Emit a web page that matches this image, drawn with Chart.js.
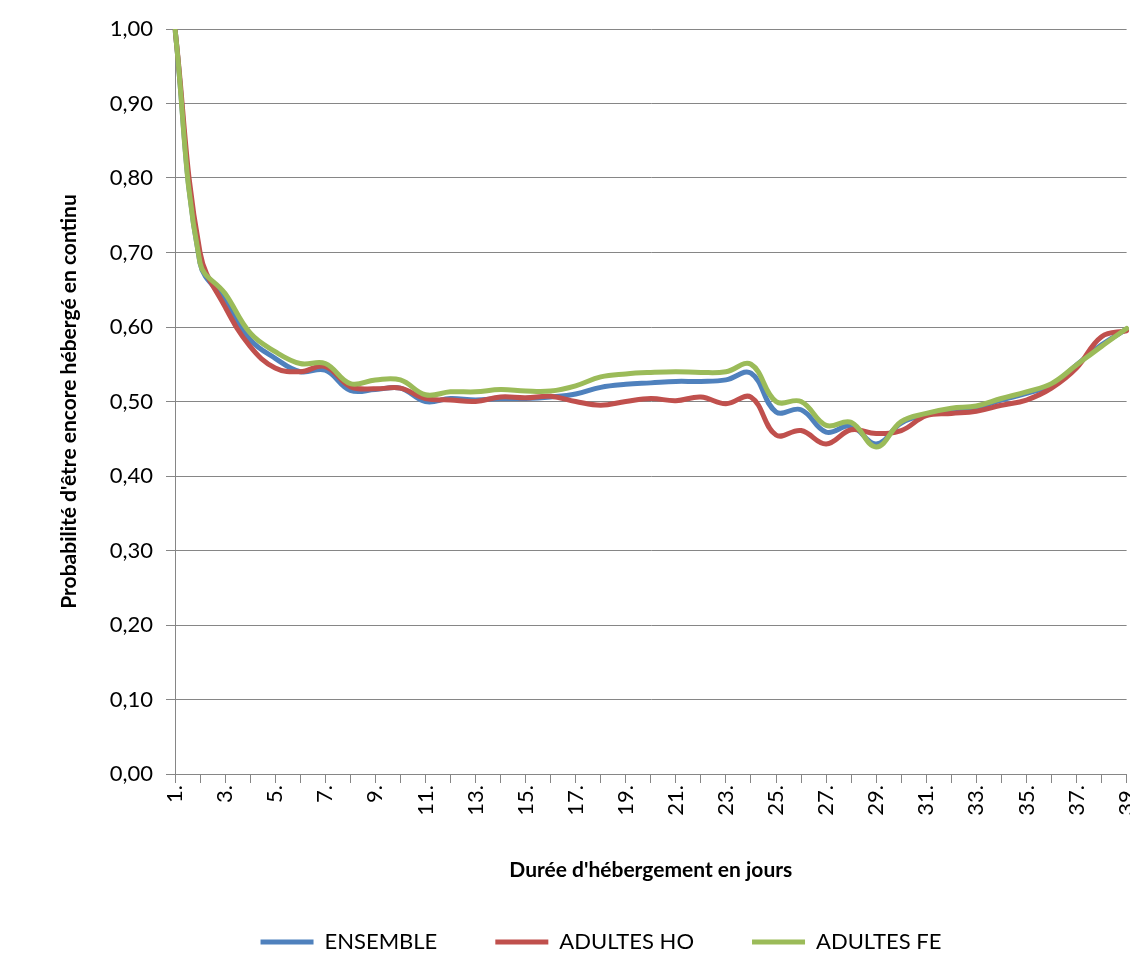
<!DOCTYPE html>
<html>
<head>
<meta charset="utf-8">
<script src="https://cdn.jsdelivr.net/npm/chart.js@4.4.0/dist/chart.umd.min.js"></script>
<style>
  html, body { margin: 0; padding: 0; overflow: hidden; background: #fff; }
  #wrap { width: 1155px; height: 963px; position: relative; }
</style>
</head>
<body>
<div id="wrap"><canvas id="survieChart"></canvas></div>
<script>
// categories: durée d'hébergement (jours)
const days = ['1.', '2.', '3.', '4.', '5.', '6.', '7.', '8.', '9.', '10.',
  '11.', '12.', '13.', '14.', '15.', '16.', '17.', '18.', '19.', '20.',
  '21.', '22.', '23.', '24.', '25.', '26.', '27.', '28.', '29.', '30.',
  '31.', '32.', '33.', '34.', '35.', '36.', '37.', '38.', '39.'];

const ensemble = [1.00, 0.686, 0.636, 0.583, 0.558, 0.540, 0.542, 0.515, 0.516, 0.518,
  0.500, 0.504, 0.502, 0.504, 0.504, 0.506, 0.510, 0.519, 0.523, 0.525,
  0.527, 0.527, 0.529, 0.538, 0.486, 0.489, 0.459, 0.467, 0.443, 0.471,
  0.483, 0.489, 0.492, 0.502, 0.511, 0.522, 0.549, 0.576, 0.597];

const adultesHo = [1.00, 0.700, 0.627, 0.574, 0.545, 0.540, 0.547, 0.520, 0.517, 0.518,
  0.504, 0.502, 0.500, 0.506, 0.505, 0.507, 0.500, 0.495, 0.500, 0.504,
  0.501, 0.506, 0.497, 0.506, 0.455, 0.461, 0.443, 0.462, 0.457, 0.461,
  0.481, 0.484, 0.487, 0.495, 0.502, 0.518, 0.545, 0.587, 0.595];

const adultesFe = [1.00, 0.686, 0.645, 0.592, 0.567, 0.551, 0.551, 0.524, 0.529, 0.529,
  0.509, 0.513, 0.513, 0.516, 0.514, 0.514, 0.521, 0.533, 0.537, 0.539,
  0.540, 0.539, 0.540, 0.550, 0.500, 0.500, 0.468, 0.472, 0.439, 0.473,
  0.484, 0.491, 0.494, 0.504, 0.513, 0.524, 0.549, 0.574, 0.598];

const yTicks = [0, 0.1, 0.2, 0.3, 0.4, 0.5, 0.6, 0.7, 0.8, 0.9, 1.0];

const FONT = 'Lato, "Open Sans", sans-serif';
const GRID = '#868686';

const line = (label, data, color, order) => ({
  label,
  data,
  borderColor: color,
  backgroundColor: color,
  borderWidth: 5,
  borderCapStyle: 'round',
  borderJoinStyle: 'round',
  pointRadius: 0,
  tension: 0.4,
  fill: false,
  order,
});

const ctx = document.getElementById('survieChart').getContext('2d');
new Chart(ctx, {
  type: 'line',
  data: {
    labels: days,
    datasets: [
      line('ENSEMBLE', ensemble, '#4F81BD', 2),
      line('ADULTES HO', adultesHo, '#C0504D', 1),
      line('ADULTES FE', adultesFe, '#9BBB59', 0),
    ],
  },
  options: {
    responsive: true,
    maintainAspectRatio: false,
    animation: false,
    layout: { padding: { left: 47, right: 0, top: 29, bottom: 0 } },
    plugins: {
      tooltip: { enabled: false },
      legend: {
        position: 'bottom',
        labels: {
          usePointStyle: true,
          pointStyle: 'line',
          pointStyleWidth: 53,
          padding: 58,
          color: '#000',
          font: { family: FONT, size: 22 },
          sort: (a, b) => a.datasetIndex - b.datasetIndex,
        },
      },
    },
    scales: {
      x: {
        grid: { drawOnChartArea: false, color: GRID, tickLength: 9 },
        border: { color: GRID },
        ticks: {
          autoSkip: false,
          minRotation: 90,
          maxRotation: 90,
          padding: 2,
          color: '#000',
          font: { family: FONT, size: 22 },
          callback: (v, i) => (i % 2 === 0 ? days[i] : ''),
        },
        title: {
          display: true,
          text: "Durée d'hébergement en jours",
          color: '#000',
          font: { family: FONT, size: 21, weight: 'bold' },
          padding: { top: 0, bottom: -10 },
        },
        afterFit: (scale) => { scale.height = 99; },
      },
      y: {
        min: 0,
        max: 1,
        afterBuildTicks: (scale) => { scale.ticks = yTicks.map((v) => ({ value: v })); },
        grid: { color: GRID, tickLength: 9 },
        border: { color: GRID },
        ticks: {
          padding: 13,
          color: '#000',
          font: { family: FONT, size: 22 },
          callback: (v) => v.toFixed(2).replace('.', ','),
        },
        title: {
          display: true,
          text: "Probabilité d'être encore hébergé en continu",
          color: '#000',
          font: { family: FONT, size: 21, weight: 'bold' },
          padding: { top: 10, bottom: 0 },
        },
        afterFit: (scale) => { scale.width = 128; },
      },
    },
  },
});
</script>
</body>
</html>
